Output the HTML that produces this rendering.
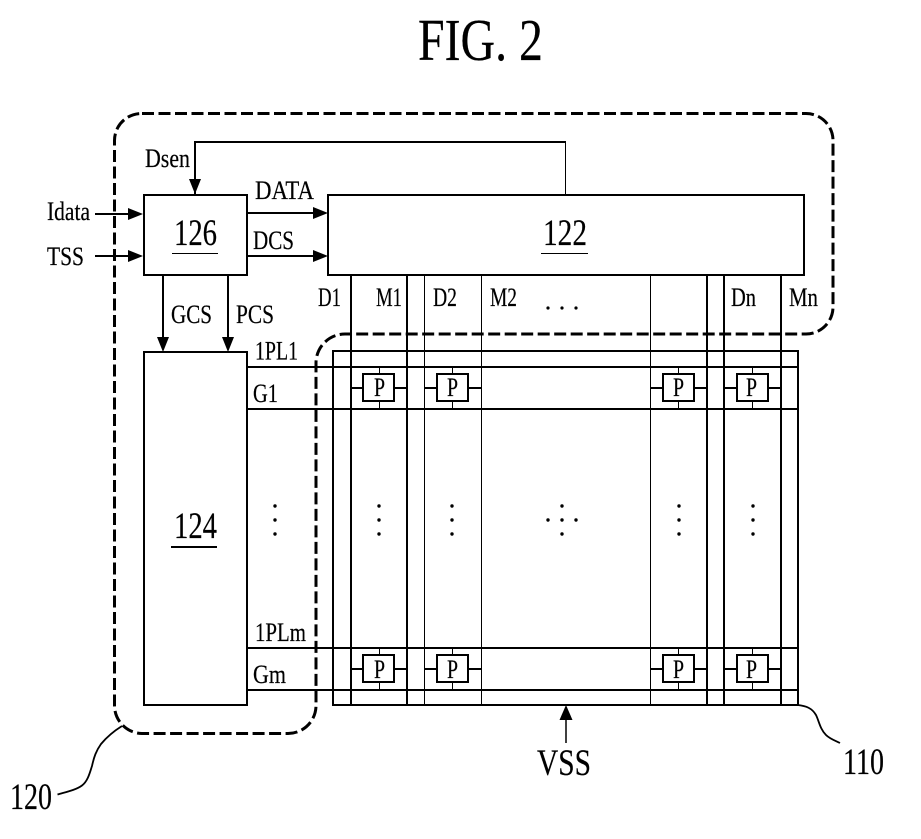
<!DOCTYPE html>
<html><head><meta charset="utf-8"><style>
html,body{margin:0;padding:0;background:#fff}
svg{display:block}
text{font-family:"Liberation Serif",serif;fill:#000;font-size:26px;stroke:#000;stroke-width:.2px}
.n{font-size:37px}
</style></head><body>
<svg width="921" height="839" viewBox="0 0 921 839" xmlns="http://www.w3.org/2000/svg">
<rect width="921" height="839" fill="#fff"/>
<text x="418" y="60" style="font-size:59px" textLength="125" lengthAdjust="spacingAndGlyphs">FIG. 2</text>

<path d="M142 113.500H806A27 27 0 0 1 833 140.500V307A27 27 0 0 1 806 334H345A29 29 0 0 0 316 363V705A28 28 0 0 1 288 733.500H142A28 28 0 0 1 114.500 705.500V140.500A27 27 0 0 1 142 113.500Z" fill="none" stroke="#000" stroke-width="3" stroke-dasharray="12 4.500"/>

<g fill="none" stroke="#000" stroke-width="2" shape-rendering="crispEdges">
<rect x="144" y="195" width="103" height="80"/>
<rect x="328" y="195" width="476" height="80"/>
<rect x="144" y="352" width="103" height="353"/>
<rect x="333" y="351" width="465" height="354"/>
<path d="M247 367H798M247 409H798M247 648H798M247 690H798"/>
<path d="M351 275V705M407 275V705M707 275V705M724 275V705M781 275V705"/>
<path d="M195 194V142H566"/>
<path d="M247 213H316M247 256H316M163 275V340M228 275V340"/>
<path d="M95 214H130M95 256H130"/>
</g>
<g fill="none" stroke="#000" stroke-width="1" shape-rendering="crispEdges">
<path d="M424.500 275V705M481.500 275V705M650.500 275V705M565.500 142V195"/>
</g>
<path d="M566 720V743" stroke="#000" stroke-width="1.500" fill="none"/>

<g fill="#000">
<path d="M195 194L189 179H201Z"/>
<path d="M143 214L128 208V220Z"/>
<path d="M143 256L128 250V262Z"/>
<path d="M328 213L313 207V219Z"/>
<path d="M328 256L313 250V262Z"/>
<path d="M163 352L157 337H169Z"/>
<path d="M228 352L222 337H234Z"/>
<path d="M566 705L559.500 720H572.500Z"/>
</g>

<g fill="#fff" stroke="#000" stroke-width="2" shape-rendering="crispEdges">
<rect x="363" y="374" width="31" height="27"/>
<rect x="437" y="374" width="31" height="27"/>
<rect x="663" y="374" width="31" height="27"/>
<rect x="737" y="374" width="31" height="27"/>
<rect x="363" y="655" width="31" height="27"/>
<rect x="437" y="655" width="31" height="27"/>
<rect x="663" y="655" width="31" height="27"/>
<rect x="737" y="655" width="31" height="27"/>
</g>
<g fill="none" stroke="#000" stroke-width="2" shape-rendering="crispEdges">
<path d="M351 388H363M394 388H407M424 388H437M468 388H481M650 388H663M694 388H707M724 388H737M768 388H781"/>
<path d="M351 669H363M394 669H407M424 669H437M468 669H481M650 669H663M694 669H707M724 669H737M768 669H781"/>
</g>
<g fill="none" stroke="#000" stroke-width="1" shape-rendering="crispEdges">
<path d="M379.500 367V374M379.500 401V409M452.500 367V374M452.500 401V409M678.500 367V374M678.500 401V409M752.500 367V374M752.500 401V409"/>
<path d="M379.500 648V655M379.500 682V690M452.500 648V655M452.500 682V690M678.500 648V655M678.500 682V690M752.500 648V655M752.500 682V690"/>
</g>

<g fill="#000">
<circle cx="548" cy="308" r="1.600"/><circle cx="562" cy="308" r="1.600"/><circle cx="576" cy="308" r="1.600"/>
<circle cx="275" cy="506" r="1.700"/><circle cx="275" cy="520" r="1.700"/><circle cx="275" cy="534" r="1.700"/>
<circle cx="379" cy="506" r="1.700"/><circle cx="379" cy="520" r="1.700"/><circle cx="379" cy="534" r="1.700"/>
<circle cx="452" cy="506" r="1.700"/><circle cx="452" cy="520" r="1.700"/><circle cx="452" cy="534" r="1.700"/>
<circle cx="562" cy="506" r="1.700"/><circle cx="562" cy="520" r="1.700"/><circle cx="562" cy="534" r="1.700"/>
<circle cx="548" cy="520" r="1.700"/><circle cx="576" cy="520" r="1.700"/>
<circle cx="679" cy="506" r="1.700"/><circle cx="679" cy="520" r="1.700"/><circle cx="679" cy="534" r="1.700"/>
<circle cx="753" cy="506" r="1.700"/><circle cx="753" cy="520" r="1.700"/><circle cx="753" cy="534" r="1.700"/>
</g>

<path d="M798 705C806 706 812 708 816 715C819 721 820 729 826 735C830 739 836 741 840 743" fill="none" stroke="#000" stroke-width="1.800"/>
<path d="M57.500 794.500C66 792 76 790 82 785.500C88 781 90 772 92 766C94 757 96 751 101 744C106 738 114 731 122 726" fill="none" stroke="#000" stroke-width="1.800"/>

<text x="145" y="167" textLength="45" lengthAdjust="spacingAndGlyphs">Dsen</text>
<text x="47" y="220" textLength="43" lengthAdjust="spacingAndGlyphs">Idata</text>
<text x="47" y="265" textLength="37" lengthAdjust="spacingAndGlyphs">TSS</text>
<text x="255" y="199" textLength="59" lengthAdjust="spacingAndGlyphs">DATA</text>
<text x="253" y="249" textLength="41" lengthAdjust="spacingAndGlyphs">DCS</text>
<text x="171" y="323" textLength="41" lengthAdjust="spacingAndGlyphs">GCS</text>
<text x="236" y="323" textLength="38" lengthAdjust="spacingAndGlyphs">PCS</text>
<text x="318" y="306" textLength="23" lengthAdjust="spacingAndGlyphs">D1</text>
<text x="376" y="306" textLength="26" lengthAdjust="spacingAndGlyphs">M1</text>
<text x="433" y="306" textLength="24" lengthAdjust="spacingAndGlyphs">D2</text>
<text x="490" y="306" textLength="27" lengthAdjust="spacingAndGlyphs">M2</text>
<text x="731" y="306" textLength="25" lengthAdjust="spacingAndGlyphs">Dn</text>
<text x="789" y="306" textLength="29" lengthAdjust="spacingAndGlyphs">Mn</text>
<text x="255" y="359.500" textLength="43" lengthAdjust="spacingAndGlyphs">1PL1</text>
<text x="253" y="402" textLength="25" lengthAdjust="spacingAndGlyphs">G1</text>
<text x="255" y="641" textLength="51" lengthAdjust="spacingAndGlyphs">1PLm</text>
<text x="253" y="683" textLength="33" lengthAdjust="spacingAndGlyphs">Gm</text>

<text class="n" x="174" y="245" textLength="43" lengthAdjust="spacingAndGlyphs">126</text>
<path d="M172 253.500H218" stroke="#000" stroke-width="1" shape-rendering="crispEdges"/>
<text class="n" x="543" y="245" textLength="44" lengthAdjust="spacingAndGlyphs">122</text>
<path d="M541 253.500H588" stroke="#000" stroke-width="1" shape-rendering="crispEdges"/>
<text class="n" x="174" y="538" textLength="43" lengthAdjust="spacingAndGlyphs">124</text>
<path d="M171 547H217" stroke="#000" stroke-width="2" shape-rendering="crispEdges"/>

<text x="374" y="396" textLength="11" lengthAdjust="spacingAndGlyphs">P</text>
<text x="447" y="396" textLength="11" lengthAdjust="spacingAndGlyphs">P</text>
<text x="673" y="396" textLength="11" lengthAdjust="spacingAndGlyphs">P</text>
<text x="746" y="396" textLength="11" lengthAdjust="spacingAndGlyphs">P</text>
<text x="374" y="678" textLength="11" lengthAdjust="spacingAndGlyphs">P</text>
<text x="447" y="678" textLength="11" lengthAdjust="spacingAndGlyphs">P</text>
<text x="673" y="678" textLength="11" lengthAdjust="spacingAndGlyphs">P</text>
<text x="746" y="678" textLength="11" lengthAdjust="spacingAndGlyphs">P</text>

<text class="n" x="537" y="775" textLength="54" lengthAdjust="spacingAndGlyphs">VSS</text>
<text class="n" x="843" y="774" textLength="41" lengthAdjust="spacingAndGlyphs">110</text>
<text class="n" x="10" y="809" textLength="42" lengthAdjust="spacingAndGlyphs">120</text>
</svg>
</body></html>
